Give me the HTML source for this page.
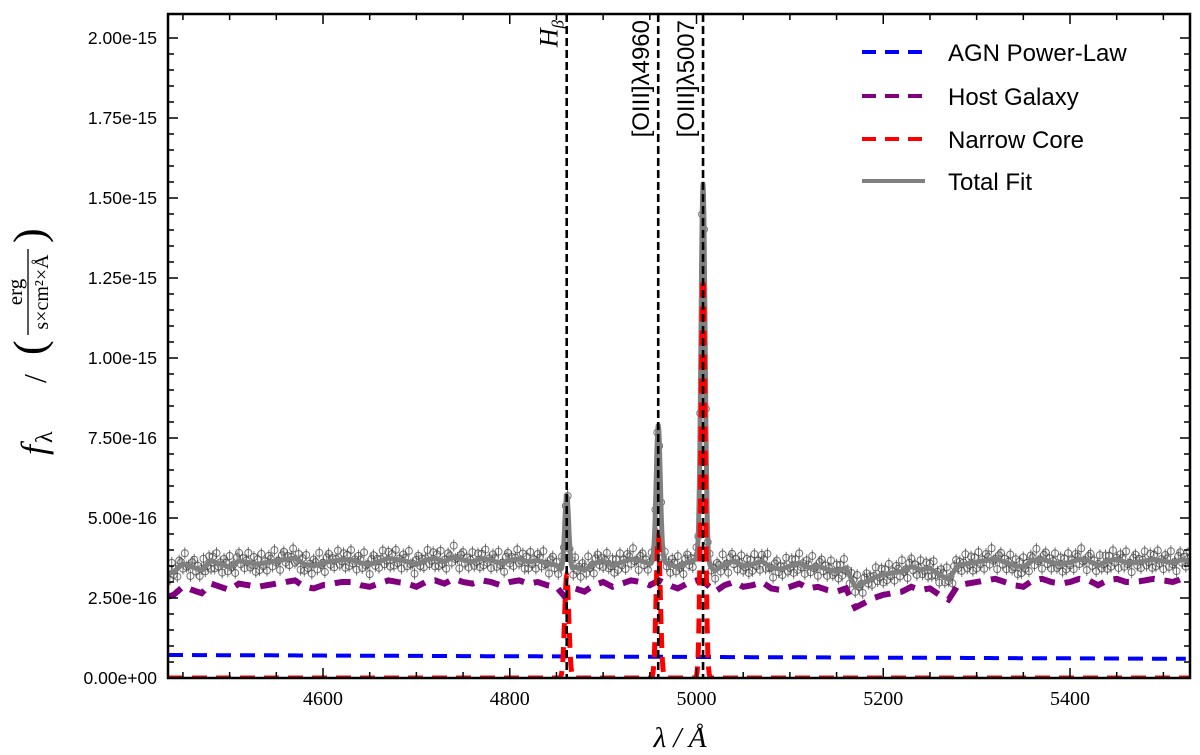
<!DOCTYPE html>
<html><head><meta charset="utf-8"><style>
body{margin:0;background:#fff}
svg{display:block}
</style></head><body>
<svg id="chart" width="1200" height="755" viewBox="0 0 1200 755" xmlns="http://www.w3.org/2000/svg">
<rect width="1200" height="755" fill="#fff"/>
<g id="plot"></g>
</svg>
<script>
// ---- data ----
const hostStart = 4430, hostStep = 10;
const hostFlux = [2.5,2.6,2.85,2.75,2.65,2.95,2.85,2.75,2.95,2.9,2.85,
2.9,2.95,3.0,3.05,2.85,2.8,2.9,2.95,3.0,3.0,2.9,
2.85,2.95,3.05,3.0,2.95,2.85,3.0,3.05,2.95,3.1,3.0,
2.95,3.05,3.0,2.9,3.0,3.05,2.95,3.0,2.9,2.85,2.5,
2.8,2.7,2.9,3.0,2.85,2.95,3.05,3.0,2.9,3.05,2.9,
2.8,2.95,3.05,2.95,2.7,2.9,3.0,2.85,2.9,3.0,2.8,
2.75,2.85,2.95,2.8,2.85,2.75,2.7,2.8,2.2,2.35,2.5,
2.6,2.65,2.7,2.85,2.75,2.8,2.6,2.45,2.9,2.95,3.0,
3.05,3.1,3.0,2.9,2.85,3.05,3.1,3.0,2.95,3.0,3.1,
3.05,2.9,3.05,3.1,3.0,3.0,3.05,3.1,3.05,3.0,3.1,3.05]; // units 1e-16
const agnWave = [4434, 5528];
const agnFlux = [0.72, 0.60];
const lineNames = ["Hβ","[OIII]λ4960","[OIII]λ5007"];
const lineCenters = [4861, 4959, 5007];
const narrowAmp = [3.2, 4.4, 12.5];
const totalLineAmp = [2.5, 4.2, 11.8];
const lineSigma = [2.2, 2.2, 2.2];
const residuals = [0.15,-0.2,0.3,-0.1,0.05,-0.25,0.2,0.1,-0.15,0.35,-0.05,0.0,-0.3,0.15,0.25,-0.1,0.1,-0.2,0.05,0.3,-0.15,-0.05,0.2,-0.25];
const xTicks = [4600,4800,5000,5200,5400];
const yTicks = [0,2.5,5,7.5,10,12.5,15,17.5,20];
const yTickLabels = ["0.00e+00","2.50e-16","5.00e-16","7.50e-16","1.00e-15","1.25e-15","1.50e-15","1.75e-15","2.00e-15"];
const legendLabels = ["AGN Power-Law","Host Galaxy","Narrow Core","Total Fit"];

// ---- axes ----
const L=168,R=1190,T=14,B=678;
const x0=4434,x1=5528.5;
const X=w=>L+(w-x0)/(x1-x0)*(R-L);
const Y=v=>B-v*32;
const NS="http://www.w3.org/2000/svg";
const g=document.getElementById('plot');
function el(tag,attrs,parent){const e=document.createElementNS(NS,tag);for(const k in attrs)e.setAttribute(k,attrs[k]);(parent||g).appendChild(e);return e;}

function host(w){const i=(w-hostStart)/hostStep;const a=Math.max(0,Math.min(hostFlux.length-1,Math.floor(i)));const b=Math.min(hostFlux.length-1,a+1);const t=Math.max(0,Math.min(1,i-a));return hostFlux[a]*(1-t)+hostFlux[b]*t;}
function agn(w){const t=(w-agnWave[0])/(agnWave[1]-agnWave[0]);return agnFlux[0]+(agnFlux[1]-agnFlux[0])*t;}
function gauss(w,amps){let s=0;for(let i=0;i<lineCenters.length;i++){s+=amps[i]*Math.exp(-0.5*Math.pow((w-lineCenters[i])/lineSigma[i],2));}return s;}
function total(w){return host(w)+agn(w)+gauss(w,totalLineAmp);}

const clip=el('clipPath',{id:'clip'});el('rect',{x:L,y:T,width:R-L,height:B-T},clip);
const data=el('g',{'clip-path':'url(#clip)'});



// data points
const pts=el('g',{fill:'none',stroke:'#444','stroke-width':1,'stroke-opacity':0.75},data);


let k=0;
for(let w=x0;w<=x1;w+=2){const v=total(w)+residuals[k%residuals.length];k++;
 const cx=X(w),cy=Y(v);
 el('line',{x1:cx,x2:cx,y1:cy-6,y2:cy+6},pts);
 el('circle',{cx:cx,cy:cy,r:3.5},pts);}

function pathOf(f,step){let d='';for(let w=x0;w<=x1;w+=step){d+=(d?'L':'M')+X(w).toFixed(1)+','+Y(f(w)).toFixed(1);}return d;}

const agnP=el('path',{d:pathOf(agn,5),fill:'none',stroke:'#0000ff','stroke-width':4,'stroke-dasharray':'15 9'},data);


const hostP=el('path',{d:pathOf(host,1),fill:'none',stroke:'#800080','stroke-width':6,'stroke-dasharray':'16 10'},data);


const totP=el('path',{d:pathOf(total,0.5),fill:'none',stroke:'#808080','stroke-width':5,'stroke-linejoin':'round'},data);


const narP=el('path',{d:pathOf(w=>gauss(w,narrowAmp),0.25),fill:'none',stroke:'#ff0000','stroke-width':5,'stroke-dasharray':'15 9'},data);



// line markers
lineCenters.forEach((c,i)=>{const lx=X(c);
 const ln=el('line',{x1:lx,x2:lx,y1:T,y2:B,stroke:'#000','stroke-width':2.6,'stroke-dasharray':'8 4'});
 
 
 let t;
 if(i===0){t=el('text',{transform:`translate(${lx-9},20) rotate(-90)`,'text-anchor':'end','font-family':'Liberation Serif, serif','font-style':'italic','font-size':26});
  t.innerHTML='H<tspan font-size="17" dy="6">β</tspan>';}
 else{t=el('text',{transform:`translate(${lx-9},20) rotate(-90)`,'text-anchor':'end','font-family':'Liberation Sans, DejaVu Sans, sans-serif','font-size':24});t.textContent=lineNames[i];}
 
 
});

// frame
const fr=el('rect',{x:L,y:T,width:R-L,height:B-T,fill:'none',stroke:'#000','stroke-width':2.5});


const tk=el('g',{stroke:'#000','stroke-width':1.5});


for(let w=4450;w<=5500;w+=50){const tx=X(w),len=(w%200===0)?10:6;
 el('line',{x1:tx,x2:tx,y1:B,y2:B-len},tk);el('line',{x1:tx,x2:tx,y1:T,y2:T+len},tk);}
for(let v=0;v<=20.01;v+=0.5){const ty=Y(v),len=(Math.abs(v/2.5-Math.round(v/2.5))<1e-6)?10:6;
 el('line',{x1:L,x2:L+len,y1:ty,y2:ty},tk);el('line',{x1:R,x2:R-len,y1:ty,y2:ty},tk);}
xTicks.forEach(w=>{const t=el('text',{x:X(w),y:705,'text-anchor':'middle','font-family':'Liberation Serif, serif','font-size':20});t.textContent=w;
 
 });
yTicks.forEach((v,i)=>{const t=el('text',{x:157,y:Y(v)+6,'text-anchor':'end','font-family':'Liberation Sans, sans-serif','font-size':17.5});t.textContent=yTickLabels[i];
 
 });

// axis titles
const xl=el('text',{x:680,y:747,'text-anchor':'middle','font-family':'Liberation Serif, serif','font-style':'italic','font-size':29});
xl.innerHTML='λ / Å';


const yg=el('g',{transform:'translate(0,335) rotate(-90)','font-family':'Liberation Serif, serif'});


const f1=el('text',{x:-120,y:46,'font-size':36},yg);f1.innerHTML='<tspan font-style="italic">f</tspan><tspan font-size="24" dy="6" dx="2">λ</tspan>';
const f2=el('text',{x:-48,y:46,'font-size':32},yg);f2.textContent='/';
const f3=el('text',{x:-20,y:44,'font-size':44},yg);f3.textContent='(';
const f4=el('text',{x:43,y:22,'font-size':21,'text-anchor':'middle'},yg);f4.textContent='erg';
el('line',{x1:0,x2:86,y1:28,y2:28,stroke:'#000','stroke-width':1.3},yg);
const f5=el('text',{x:43,y:48,'font-size':20,'text-anchor':'middle'},yg);f5.textContent='s×cm²×Å';
const f6=el('text',{x:92,y:44,'font-size':44},yg);f6.textContent=')';

// legend
const legColors=['#0000ff','#800080','#ff0000','#808080'];
const legY=[52,96,139,181];
legendLabels.forEach((lab,i)=>{
 const lg=el('g',{});
 
 
 el('line',{x1:862,x2:925,y1:legY[i],y2:legY[i],stroke:legColors[i],'stroke-width':4,'stroke-dasharray':i===3?'none':'14 9'},lg);
 const t=el('text',{x:948,y:legY[i]+9,'font-family':'Liberation Sans, DejaVu Sans, sans-serif','font-size':24},lg);t.textContent=lab;
});
</script>
</body></html>
